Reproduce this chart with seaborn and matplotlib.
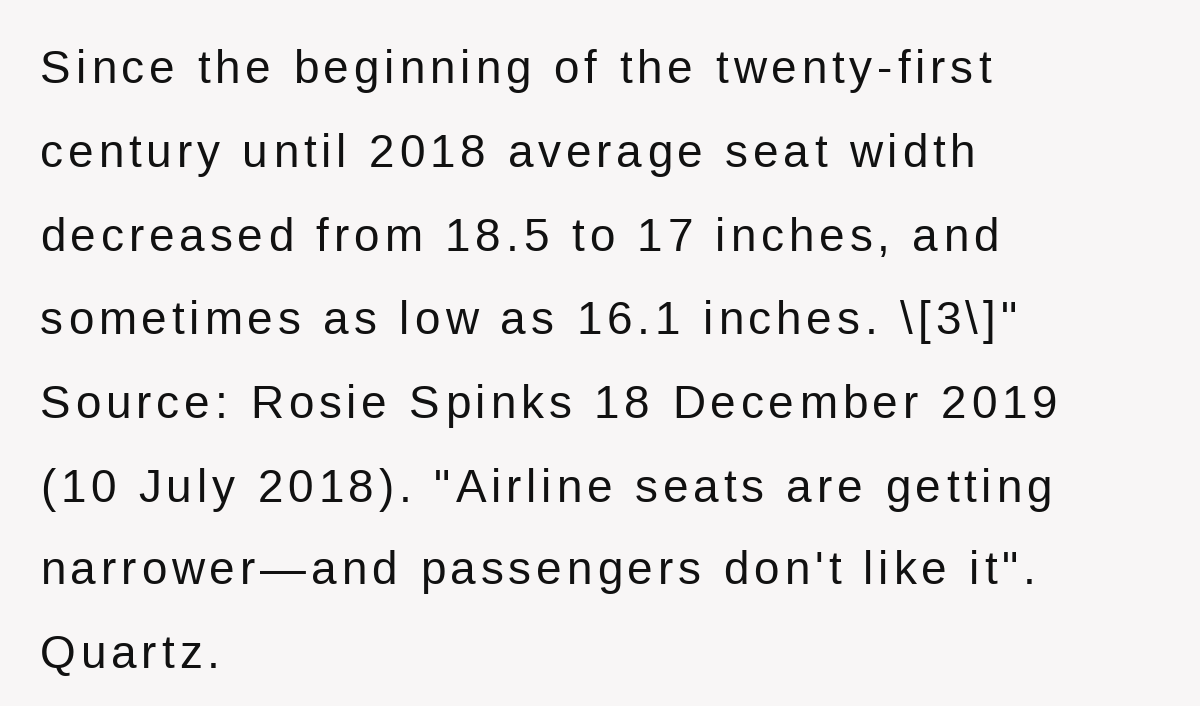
import matplotlib
matplotlib.use("Agg")
import matplotlib.pyplot as plt
import seaborn as sns
from matplotlib.textpath import TextPath
from matplotlib.font_manager import FontProperties

lines = [
    "Since the beginning of the twenty-first",
    "century until 2018 average seat width",
    "decreased from 18.5 to 17 inches, and",
    "sometimes as low as 16.1 inches. \\[3\\]\"",
    "Source: Rosie Spinks 18 December 2019",
    "(10 July 2018). \"Airline seats are getting",
    "narrower\u2014and passengers don't like it\".",
    "Quartz.",
]
line_y_px = [66, 150, 234, 317, 401, 485, 567, 651]

sns.set_theme(style="white", rc={"figure.facecolor": "#f8f6f6", "axes.facecolor": "#f8f6f6"})
plt.rcParams["font.family"] = ["Liberation Sans", "DejaVu Sans"]
fig = plt.figure(figsize=(12, 7.06), dpi=100)
ax = fig.add_axes([0, 0, 1, 1])
ax.set_axis_off()
ax.set_xlim(0, 1200)
ax.set_ylim(706, 0)

fs = 33
px = fs * 100 / 72
fp = FontProperties(family="Liberation Sans", size=px)
track = 4.9

def prefix_width(s):
    if not s:
        return 0.0
    # width incl. trailing spaces: measure with sentinel
    w1 = TextPath((0, 0), s + "|", prop=fp).get_extents().x1
    w2 = TextPath((0, 0), "|", prop=fp).get_extents().x1
    return w1 - w2

for t, y in zip(lines, line_y_px):
    for i, ch in enumerate(t):
        if ch == " ":
            continue
        x = 40 + prefix_width(t[:i]) + i * track
        ax.text(x, y, ch, fontsize=fs, color="#111111", va="center_baseline", ha="left")
fig.savefig("out.png", dpi=100, facecolor=fig.get_facecolor())
